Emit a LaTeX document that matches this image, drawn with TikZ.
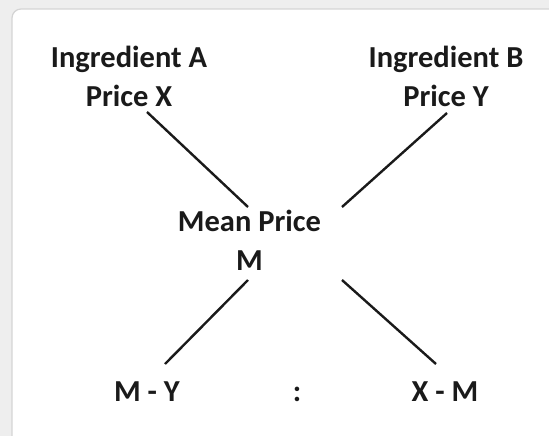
\documentclass[tikz,border=0pt]{standalone}
\usepackage{fontspec}
\setmainfont{Carlito}
\usetikzlibrary{calc}
\definecolor{bgout}{HTML}{EEEEEE}
\definecolor{panelborder}{HTML}{D4D4D4}
\definecolor{ink}{HTML}{1A1A1A}
\begin{document}
\begin{tikzpicture}[x=1pt,y=-1pt,
  lbl/.style={inner sep=0pt, align=center, anchor=base, text=ink,
    font=\fontsize{30.5}{38.5}\selectfont\bfseries},
  conn/.style={draw=ink, line width=2.4pt}]
\useasboundingbox (0,0) rectangle (549,436);
\clip (0,0) rectangle (549,436);
\fill[bgout] (0,0) rectangle (549,436);
\draw[fill=white, draw=panelborder, line width=1.2pt, rounded corners=9pt] (12,9) rectangle (570,460);
\node[lbl] (A) at (129,106.5) {Ingredient A\\Price X};
\node[lbl] (B) at (446,106.5) {Ingredient B\\Price Y};
\node[lbl] (Mn) at (249.5,270) {Mean Price\\M};
\node[lbl] (MY) at (147,401) {M - Y};
\node[lbl] (col) at (297,401) {:};
\node[lbl] (XM) at (445,401) {X - M};
\draw[conn] ($(A.base)+(18,5.5)$) -- ($(Mn.base)+(-1.5,-63)$);
\draw[conn] ($(B.base)+(1,6.5)$) -- ($(Mn.base)+(92.5,-63)$);
\draw[conn] ($(Mn.base)+(-1.5,10)$) -- ($(MY.base)+(18,-37)$);
\draw[conn] ($(Mn.base)+(92.5,10)$) -- ($(XM.base)+(-9,-37)$);
\end{tikzpicture}
\end{document}
